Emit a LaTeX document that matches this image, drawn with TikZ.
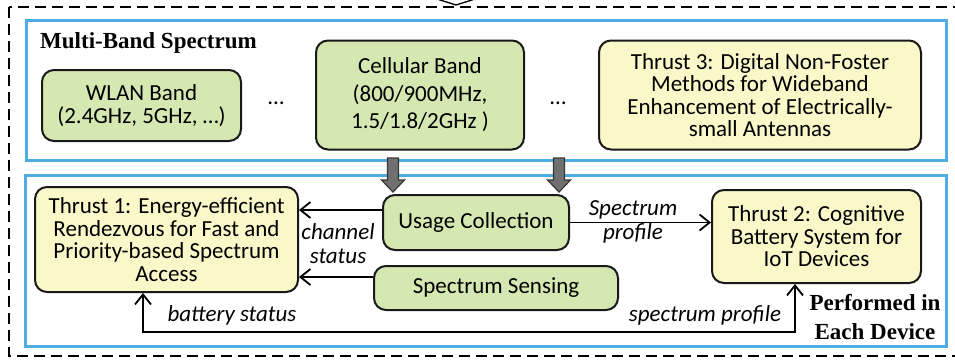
\documentclass[tikz,border=0pt]{standalone}
\usepackage{fontspec}
\setmainfont{Carlito}
\newfontfamily\headfont{Liberation Serif}
\usepackage{xcolor}
\usetikzlibrary{arrows.meta,positioning}
\definecolor{bandgreen}{RGB}{214,232,178}
\definecolor{thrustyellow}{RGB}{250,248,200}
\definecolor{frameblue}{RGB}{79,173,226}
\definecolor{boxline}{RGB}{25,25,25}
\definecolor{feedgray}{RGB}{112,112,112}
\definecolor{feededge}{RGB}{55,55,55}

\begin{document}
\begin{tikzpicture}[
  x=1pt, y=-1pt,
  >={Straight Barb[length=10pt,width=16pt]},
  font=\fontsize{23}{22.5}\selectfont,
  box/.style={draw=boxline, line width=2pt, rounded corners=12pt, align=center, inner sep=0pt},
  band/.style={box, fill=bandgreen},
  thrust/.style={box, fill=thrustyellow},
  frame/.style={draw=frameblue, line width=3pt, inner sep=0pt},
  arrow/.style={->, line width=1.8pt},
  lbl/.style={font=\fontsize{23}{24}\selectfont\itshape, align=center, inner sep=0pt},
  head/.style={font=\fontsize{23}{29}\selectfont\headfont\bfseries, align=center, inner sep=0pt},
  feed/.style={draw=feededge, fill=feedgray, line width=1.2pt}
]
\useasboundingbox (0,0) rectangle (955,360);
\clip (0,0) rectangle (955,360);

% device border and incoming arrow
\draw[dash pattern=on 11pt off 6pt, line width=1.5pt] (9,7) rectangle (962,356);
\coordinate (inl) at (437,-1);
\coordinate (inr) at (475,-1);
\draw[line width=1.3pt] (inl) -- (456,5) -- (inr);

% spectrum
\node[frame, minimum width=920pt, minimum height=140pt] (specframe) at (486,90) {};
\node[head, anchor=west] (spectitle) at (40,43) {Multi-Band Spectrum};
\node[band, minimum width=199pt, minimum height=71pt] (wlan) at (141.5,105.5) {WLAN Band\\(2.4GHz, 5GHz, …)};
\node (dots1) at (276,103) {…};
\node[band, minimum width=208pt, minimum height=109pt, font=\fontsize{23}{27.5}\selectfont] (cell) at (420,95) {Cellular Band\\(800/900MHz,\\1.5/1.8/2GHz )};
\node (dots2) at (558,103) {…};
\node[thrust, minimum width=322pt, minimum height=109pt] (thrust3) at (760,95) {Thrust 3: Digital Non-Foster\\Methods for Wideband\\Enhancement of Electrically-\\small Antennas};

% device
\node[frame, minimum width=921pt, minimum height=171pt] (devframe) at (485.5,260.5) {};
\node[thrust, minimum width=263pt, minimum height=105pt] (thrust1) at (166.5,239.5) {Thrust 1: Energy-efficient\\Rendezvous for Fast and\\Priority-based Spectrum\\Access};
\node[band, minimum width=186pt, minimum height=55pt] (usage) at (476,222.5) {Usage Collection};
\node[band, minimum width=244pt, minimum height=44pt] (sensing) at (496,288) {Spectrum Sensing};
\node[thrust, minimum width=209pt, minimum height=93pt] (thrust2) at (816.5,236.5) {Thrust 2: Cognitive\\Battery System for\\IoT Devices};
\node[head] (perf) at (875,317.5) {Performed in\\Each Device};

% feeds from the bands
\coordinate (feed1) at (393,158);
\coordinate (feed2) at (559,158);
\foreach \f in {feed1,feed2}
  \draw[feed] (\f) ++(-5.5,0) -- ++(11,0) -- ++(0,22) -- ++(6,0) -- ++(-11.5,12) -- ++(-11.5,-12) -- ++(6,0) -- cycle;

\draw[arrow] ([yshift=12.5pt]usage.west) -- ([yshift=12.5pt]usage.west -| thrust1.east);
\draw[arrow] ([yshift=11pt]sensing.west) -- ([yshift=11pt]sensing.west -| thrust1.east);
\draw[arrow] (usage.east) -- (usage.east -| thrust2.west);
\coordinate (loop) at (0,332);
\draw[<->, line width=1.8pt] ([xshift=-23.5pt]thrust1.south) -- ([xshift=-23.5pt]thrust1.south |- loop) -- ([xshift=-21.5pt]thrust2.south |- loop) -- ([xshift=-21.5pt]thrust2.south);

\node[lbl] (chan) at (338,244) {channel\\status};
\node[lbl] (specprof) at (633,221.5) {Spectrum\\profile};
\node[lbl] (batt) at (232,315) {battery status};
\node[lbl] (sprof) at (705,315) {spectrum profile};
\end{tikzpicture}
\end{document}
